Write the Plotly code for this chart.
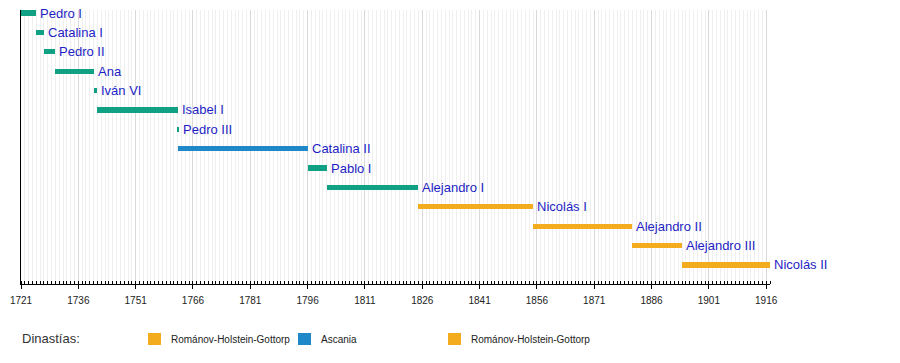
import plotly.graph_objects as go

# ---- data ----
rulers = ["Pedro I", "Catalina I", "Pedro II", "Ana", "Iván VI", "Isabel I", "Pedro III",
          "Catalina II", "Pablo I", "Alejandro I", "Nicolás I", "Alejandro II",
          "Alejandro III", "Nicolás II"]
start_years = [1721, 1725, 1727, 1730, 1740, 1741, 1762.0, 1762, 1796, 1801, 1825, 1855, 1881, 1894]
end_years = [1725, 1727, 1730, 1740, 1741, 1762, 1762.3, 1796, 1801, 1825, 1855, 1881, 1894, 1917]
dynasty = ["Románov", "Románov", "Románov", "Románov", "Románov", "Románov", "Románov",
           "Ascania", "Románov-Holstein-Gottorp", "Románov-Holstein-Gottorp",
           "Románov-Holstein-Gottorp", "Románov-Holstein-Gottorp",
           "Románov-Holstein-Gottorp", "Románov-Holstein-Gottorp"]
bar_group = ["g", "g", "g", "g", "g", "g", "g", "b", "g", "g", "o", "o", "o", "o"]
legend_title = "Dinastías:"
legend_labels = ["Románov-Holstein-Gottorp", "Ascania", "Románov-Holstein-Gottorp"]
legend_groups = ["o", "b", "o"]
tick_labels = [str(y) for y in range(1721, 1917, 15)]

# ---- styles ----
colors = {"g": "#10a084", "b": "#1e88c8", "o": "#f2ac1e"}
label_color = "#1e1ec4"
FONT = "Liberation Sans, Arial, Helvetica, sans-serif"

OFF = 8  # default page body margin
W, H = 900 - OFF, 363 - OFF
PL, PR, PT, PB = 21, 770, 10, 284   # plot area in page pixels
L, T = PL - OFF, PT - OFF
PW, PH = PR - PL, PB - PT
R, B = W - L - PW, H - T - PH
row_px0, row_step = 13, 19.38

def xp(px):
    return (px - PL) / PW

def yp(py):
    return (PB - py) / PH

rows = list(range(len(rulers)))
durations = [e - s for s, e in zip(start_years, end_years)]

fig = go.Figure()
fig.add_trace(go.Bar(
    orientation="h", y=rows, base=start_years, x=durations, width=0.27,
    marker=dict(color=[colors[g] for g in bar_group], line=dict(width=0)),
    hovertext=[f"{r} ({d})" for r, d in zip(rulers, dynasty)], hoverinfo="text",
    showlegend=False,
))

annotations = []
for r, e, name in zip(rows, end_years, rulers):
    annotations.append(dict(x=e, y=r, xref="x", yref="y", text=name, showarrow=False,
                            xanchor="left", yanchor="middle", xshift=2,
                            font=dict(family=FONT, size=13, color=label_color)))

annotations.append(dict(x=xp(20), y=yp(338), xref="paper", yref="paper", text=legend_title,
                        showarrow=False, xanchor="left", yanchor="middle",
                        font=dict(family=FONT, size=13, color="#333333")))
shapes = []
for i, (lab, g) in enumerate(zip(legend_labels, legend_groups)):
    x0 = 148 + 150 * i
    shapes.append(dict(type="rect", xref="paper", yref="paper",
                       x0=xp(x0), x1=xp(x0 + 13), y0=yp(345), y1=yp(333),
                       fillcolor=colors[g], line=dict(width=0)))
    annotations.append(dict(x=xp(x0 + 21), y=yp(339), xref="paper", yref="paper", text=lab,
                            showarrow=False, xanchor="left", yanchor="middle",
                            font=dict(family=FONT, size=10, color="#222222")))

y_top = -(row_px0 - PT) / row_step
y_bot = (PB - row_px0) / row_step

fig.update_layout(
    width=W, height=H, margin=dict(l=L, r=R, t=T, b=B, autoexpand=False),
    paper_bgcolor="white", plot_bgcolor="white",
    showlegend=False, bargap=0,
    annotations=annotations, shapes=shapes,
    xaxis=dict(range=[1721, 1917], tickmode="array",
               tickvals=[int(t) for t in tick_labels], ticktext=tick_labels,
               showgrid=True, gridcolor="#d9d9d9", gridwidth=1,
               showline=True, linecolor="black", linewidth=1,
               ticks="outside", ticklen=4, tickcolor="black",
               tickfont=dict(family=FONT, size=10, color="#222222"),
               ticklabelstandoff=3,
               minor=dict(dtick=1, tick0=1721, showgrid=True, gridcolor="#efefef",
                          gridwidth=1, ticks="inside", ticklen=3, tickcolor="black"),
               zeroline=False, fixedrange=True),
    yaxis=dict(range=[y_bot, y_top], showgrid=False, showticklabels=False, ticks="",
               showline=True, linecolor="black", linewidth=1, zeroline=False,
               fixedrange=True),
)

fig.write_html("out.html")
